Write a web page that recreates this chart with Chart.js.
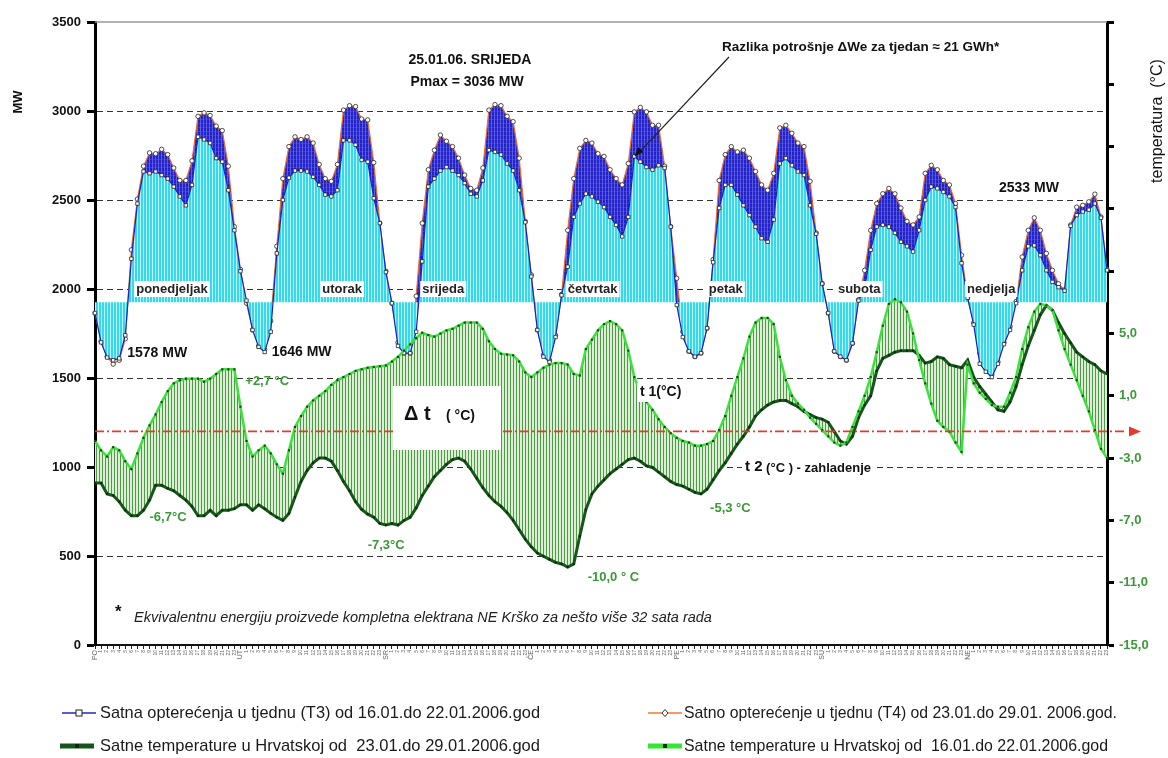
<!DOCTYPE html>
<html>
<head>
<meta charset="utf-8">
<script src="https://cdn.jsdelivr.net/npm/chart.js@4.4.1/dist/chart.umd.min.js"></script>
<style>
  html, body { margin: 0; padding: 0; background: #fff; }
  #wrap { position: relative; width: 1168px; height: 758px; }
</style>
</head>
<body>
<div id="wrap"><canvas id="c" width="1168" height="758"></canvas></div>
<script>
// ---- data: hourly values for one week (168 hours, Monday 00h .. Sunday 23h) ----
const DAYS = ['PO', 'UT', 'SR', 'ČE', 'PE', 'SU', 'NE'];
const DAY_NAMES = ['ponedjeljak', 'utorak', 'srijeda', 'četvrtak', 'petak', 'subota', 'nedjelja'];

// hourly load, week T3 (16.01.–22.01.2006), MW
const LOAD_T3 = [
  1865,1700,1615,1600,1610,1740,2170,2480,2660,2650,2660,2640,2620,2575,2520,2470,2585,2855,2840,2820,2735,2715,2555,2330,
  2100,1935,1770,1675,1646,1760,2200,2500,2625,2665,2665,2660,2630,2585,2530,2520,2555,2835,2835,2810,2725,2715,2510,2370,
  2095,1920,1680,1640,1640,1760,2155,2575,2620,2665,2685,2665,2640,2595,2535,2520,2610,2780,2770,2755,2705,2665,2555,2375,
  2070,1770,1620,1590,1730,1965,2125,2405,2480,2535,2520,2490,2460,2405,2360,2295,2405,2745,2715,2685,2670,2695,2680,2350,
  1910,1730,1650,1620,1640,1780,2150,2455,2585,2585,2530,2470,2415,2350,2285,2265,2390,2705,2735,2695,2660,2640,2470,2310,
  2030,1865,1650,1620,1600,1695,1935,1995,2220,2350,2360,2350,2315,2265,2240,2210,2330,2500,2575,2565,2545,2520,2460,2145,
  1950,1800,1580,1535,1505,1580,1690,1770,1920,2105,2240,2245,2190,2105,2040,2010,1990,2355,2415,2435,2445,2480,2400,2105
];

// hourly load, week T4 (23.01.–29.01.2006), MW
const LOAD_T4 = [
  1865,1705,1620,1578,1600,1720,2220,2505,2690,2765,2760,2785,2755,2680,2610,2610,2720,2970,2990,2975,2915,2890,2690,2350,
  2110,1920,1770,1680,1660,1820,2240,2620,2800,2855,2840,2855,2820,2700,2620,2605,2700,3005,3030,3025,2955,2950,2710,2370,
  2100,1920,1700,1640,1640,1960,2370,2670,2780,2865,2830,2800,2735,2640,2565,2555,2680,3005,3036,3030,2970,2940,2735,2380,
  2080,1770,1630,1600,1740,1970,2330,2620,2790,2835,2820,2760,2745,2670,2620,2585,2705,2995,3020,2995,2920,2920,2690,2350,
  2060,1760,1650,1620,1640,1780,2165,2610,2755,2800,2770,2780,2735,2660,2585,2555,2650,2905,2920,2875,2820,2800,2605,2315,
  2030,1865,1650,1620,1600,1695,1940,2105,2330,2480,2535,2565,2535,2455,2380,2360,2405,2650,2695,2670,2610,2585,2480,2190,
  1950,1810,1640,1560,1520,1590,1700,1790,1930,2180,2330,2400,2330,2200,2105,2030,1995,2360,2460,2470,2490,2533,2405,2110
];

// hourly temperature in Croatia, 16.01.–22.01.2006 (t1), °C
const TEMP_T1 = [
  -1.9,-2.5,-2.9,-2.3,-2.5,-3.2,-3.7,-2.7,-1.7,-0.9,-0.2,0.6,1.3,1.8,2.0,2.1,2.1,2.1,1.9,2.1,2.4,2.7,2.7,2.7,
  0.3,-1.9,-2.9,-2.5,-2.2,-2.7,-3.4,-4.0,-2.5,-1.0,-0.3,0.3,0.7,1.0,1.3,1.7,2.0,2.2,2.4,2.6,2.7,2.8,2.85,2.9,
  2.95,3.2,3.5,3.9,4.3,4.7,5.05,4.9,4.8,5.0,5.2,5.3,5.5,5.7,5.7,5.7,5.3,4.5,4.0,3.7,3.65,3.6,3.2,2.5,
  2.2,2.5,2.8,3.0,3.1,3.1,3.0,2.4,2.3,4.0,4.6,5.2,5.6,5.8,5.6,5.2,3.9,2.2,1.2,0.6,0.1,-0.5,-1.0,-1.4,
  -1.7,-1.9,-2.0,-2.2,-2.2,-2.1,-1.9,-1.2,-0.3,1.0,2.2,3.4,4.8,5.7,6.0,6.0,5.6,3.5,2.0,1.0,0.5,0.1,-0.4,-0.8,
  -1.2,-1.6,-2.0,-2.2,-2.0,-1.0,0.0,1.0,2.2,3.8,5.5,6.9,7.2,7.0,6.4,5.0,3.3,1.8,0.5,-0.6,-1.0,-1.3,-2.0,-2.6,
  3.0,1.8,1.2,0.8,0.4,0.3,0.3,1.2,2.2,4.0,5.4,6.4,6.9,6.8,6.5,5.2,4.0,3.0,2.0,1.0,0.0,-1.2,-2.4,-3.0
];

// hourly temperature in Croatia, 23.01.–29.01.2006 (t2, cold spell), °C
const TEMP_T2 = [
  -4.6,-4.6,-5.3,-5.4,-5.8,-6.35,-6.7,-6.7,-6.35,-5.7,-4.75,-4.75,-4.95,-5.1,-5.4,-5.7,-6.1,-6.7,-6.7,-6.35,-6.7,-6.35,-6.35,-6.25,
  -6.0,-6.0,-6.35,-6.0,-6.25,-6.55,-6.8,-7.0,-6.55,-5.5,-4.5,-3.8,-3.3,-3.0,-3.0,-3.2,-3.8,-4.5,-5.1,-5.8,-6.3,-6.6,-6.8,-7.2,
  -7.3,-7.2,-7.3,-7.0,-6.8,-6.2,-5.4,-4.8,-4.2,-3.8,-3.4,-3.1,-3.0,-3.2,-3.7,-4.3,-4.9,-5.4,-5.8,-6.1,-6.5,-7.0,-7.6,-8.2,
  -8.7,-9.1,-9.3,-9.5,-9.7,-9.8,-10.0,-9.8,-8.0,-6.3,-5.3,-4.8,-4.4,-4.0,-3.7,-3.4,-3.1,-3.0,-3.2,-3.5,-3.6,-3.9,-4.2,-4.5,
  -4.7,-4.8,-5.0,-5.2,-5.3,-5.0,-4.4,-3.8,-3.3,-2.7,-2.1,-1.6,-1.0,-0.3,0.1,0.4,0.6,0.7,0.7,0.5,0.3,0.0,-0.2,-0.4,
  -0.5,-0.7,-1.3,-1.9,-2.1,-1.6,-0.4,0.4,1.0,2.6,3.4,3.6,3.8,3.9,3.9,3.9,3.6,3.1,3.2,3.5,3.4,3.0,2.9,2.8,
  3.3,2.2,1.6,1.1,0.6,0.1,0.0,0.6,1.6,3.0,4.2,5.2,6.2,6.8,6.5,5.7,5.0,4.4,3.8,3.5,3.2,3.0,2.6,2.4
];

// x tick labels: day abbreviation at midnight, then the hour of day
const HOUR_LABELS = [];
DAYS.forEach(d => { for (let h = 0; h < 24; h++) HOUR_LABELS.push(h === 0 ? d : String(h)); });

const LOAD_BASE = 1925;   // level the hourly load bars are hung from
const REF_LEVEL = 1200;   // red reference line

const LEGEND = [
  'Satna opterećenja u tjednu (T3) od 16.01.do 22.01.2006.god',
  'Satno opterećenje u tjednu (T4) od 23.01.do 29.01. 2006.god.',
  'Satne temperature u Hrvatskoj od  23.01.do 29.01.2006.god',
  'Satne temperature u Hrvatskoj od  16.01.do 22.01.2006.god'
];

// ---- hatch patterns ----
function pattern(w, h, paint) {
  const c = document.createElement('canvas');
  c.width = w; c.height = h;
  const g = c.getContext('2d');
  paint(g);
  return g.createPattern(c, 'repeat');
}
const cyanHatch = pattern(3, 1, g => {
  g.fillStyle = '#bff4f8'; g.fillRect(0, 0, 3, 1);
  g.fillStyle = '#36d9ea'; g.fillRect(0, 0, 2, 1);
});
const blueHatch = pattern(3, 4, g => {
  g.fillStyle = '#2222c6'; g.fillRect(0, 0, 3, 4);
  g.fillStyle = '#5c5ce2'; g.fillRect(2, 0, 1, 4);
  g.fillStyle = '#3a3ad2'; g.fillRect(0, 3, 2, 1);
});
const greenHatch = pattern(3, 1, g => {
  g.fillStyle = '#dcefd4'; g.fillRect(0, 0, 3, 1);
  g.fillStyle = '#4f9a4a'; g.fillRect(0, 0, 1, 1);
});

const GREEN_TXT = '#3a9a36';
const FONT = '"Liberation Sans", Arial, sans-serif';

// ---- annotations, titles and legend ----
const decorations = {
  id: 'decorations',
  beforeDatasetsDraw(chart) {
    const {ctx, chartArea: a} = chart;
    ctx.save();
    ctx.strokeStyle = '#999';
    ctx.lineWidth = 1.5;
    ctx.beginPath(); ctx.moveTo(a.left, a.top); ctx.lineTo(a.right, a.top); ctx.stroke();
    ctx.restore();
  },
  afterDatasetsDraw(chart) {
    const {ctx, chartArea: a, scales} = chart;
    const X = v => scales.x.getPixelForValue(v);
    const Y = v => scales.y.getPixelForValue(v);
    const T = v => scales.y1.getPixelForValue(v);
    ctx.save();

    // red reference line with arrow
    const ry = Y(REF_LEVEL);
    ctx.strokeStyle = '#e83a2a';
    ctx.lineWidth = 1.6;
    ctx.setLineDash([9, 3, 2, 3]);
    ctx.beginPath(); ctx.moveTo(a.left, ry); ctx.lineTo(a.right + 20, ry); ctx.stroke();
    ctx.setLineDash([]);
    ctx.fillStyle = '#e83a2a';
    ctx.beginPath(); ctx.moveTo(a.right + 22, ry - 5); ctx.lineTo(a.right + 34, ry); ctx.lineTo(a.right + 22, ry + 5); ctx.closePath(); ctx.fill();

    // day names sitting on the 2000 MW line
    ctx.font = 'bold 13px ' + FONT;
    ctx.textBaseline = 'middle';
    const dayAt = [6.8, 37.5, 54, 78, 101.3, 122.6, 143.9];
    DAY_NAMES.forEach((n, i) => {
      const x = X(dayAt[i]), y = Y(2000);
      const w = ctx.measureText(n).width;
      ctx.fillStyle = '#fff';
      ctx.fillRect(x - 2, y - 8, w + 4, 16);
      ctx.fillStyle = '#222';
      ctx.fillText(n, x, y);
    });

    // load labels
    ctx.font = 'bold 14px ' + FONT;
    ctx.fillStyle = '#111';
    ctx.textAlign = 'left';
    ctx.fillText(LOAD_T4[3] + ' MW', X(3) + 14, Y(LOAD_T4[3]) - 11);
    ctx.fillText(LOAD_T3[28] + ' MW', X(28) + 7, Y(LOAD_T3[28]));
    ctx.textAlign = 'right';
    ctx.fillText(LOAD_T4[165] + ' MW', X(165) - 36, Y(LOAD_T4[165]) - 6);

    ctx.textAlign = 'center';
    ctx.fillText('25.01.06. SRIJEDA', 470, 60);
    ctx.fillText('Pmax = ' + Math.max(...LOAD_T4) + ' MW', 467, 82);

    ctx.font = 'bold 13.5px ' + FONT;
    ctx.textAlign = 'left';
    ctx.fillText('Razlika potrošnje \u0394We za tjedan \u2248 21 GWh*', 722, 47);
    // pointer to the Thursday evening peak
    const px = X(89), py = Y(LOAD_T3[89]);
    ctx.strokeStyle = '#222'; ctx.lineWidth = 1.2;
    ctx.beginPath(); ctx.moveTo(729, 57); ctx.lineTo(px + 4, py - 3); ctx.stroke();
    const ang = Math.atan2(py - 57, px - 729);
    ctx.fillStyle = '#111';
    ctx.beginPath();
    ctx.moveTo(px, py);
    ctx.lineTo(px - 10 * Math.cos(ang - 0.35), py - 10 * Math.sin(ang - 0.35));
    ctx.lineTo(px - 10 * Math.cos(ang + 0.35), py - 10 * Math.sin(ang + 0.35));
    ctx.closePath(); ctx.fill();

    // temperature labels
    ctx.font = 'bold 13px ' + FONT;
    ctx.fillStyle = GREEN_TXT;
    ctx.textAlign = 'left';
    ctx.fillText('+2,7 °C', X(24.8), T(2.7) + 12);
    ctx.fillText('-6,7°C', X(9), T(-6.7) + 2);
    ctx.fillText('-7,3°C', X(45), T(-7.3) + 20);
    ctx.fillText('-10,0 ° C', X(81.3), T(-10.0) + 10);
    ctx.fillText('-5,3 °C', X(101.5), T(-5.3) + 14);

    // delta t box
    ctx.fillStyle = '#fff';
    ctx.fillRect(393, 386, 108, 64);
    ctx.fillStyle = '#111';
    ctx.font = 'bold 20px ' + FONT;
    ctx.fillText('\u0394 t', 404, 414);
    ctx.font = 'bold 14px ' + FONT;
    ctx.fillText('( °C)', 446, 416);

    // t1 / t2 captions
    ctx.font = 'bold 14px ' + FONT;
    let w = ctx.measureText('t 1(°C)').width;
    ctx.fillStyle = '#fff'; ctx.fillRect(637, 383, w + 6, 19);
    ctx.fillStyle = '#111'; ctx.fillText('t 1(°C)', 640, 392);
    const cap2a = 't 2', cap2b = ' (°C ) - zahladenje';
    ctx.font = 'bold 15px ' + FONT;
    const wa = ctx.measureText(cap2a).width;
    ctx.font = 'bold 13px ' + FONT;
    const wb = ctx.measureText(cap2b).width;
    ctx.fillStyle = '#fff'; ctx.fillRect(742, 458, wa + wb + 6, 19);
    ctx.fillStyle = '#111';
    ctx.font = 'bold 15px ' + FONT; ctx.fillText(cap2a, 745, 467);
    ctx.font = 'bold 13px ' + FONT; ctx.fillText(cap2b, 745 + wa, 468);

    // footnote
    ctx.font = 'bold 17px ' + FONT;
    ctx.fillText('*', 115, 612);
    ctx.font = 'italic 14.5px ' + FONT;
    ctx.fillStyle = '#222';
    ctx.fillText('Ekvivalentnu energiju proizvede kompletna elektrana NE Krško za nešto više 32 sata rada', 134, 618);
    ctx.restore();
  },
  afterDraw(chart) {
    const {ctx} = chart;
    ctx.save();
    // axis titles
    ctx.fillStyle = '#111';
    ctx.textAlign = 'center';
    ctx.textBaseline = 'middle';
    ctx.font = 'bold 13px ' + FONT;
    ctx.translate(18, 102); ctx.rotate(-Math.PI / 2); ctx.fillText('MW', 0, 0);
    ctx.setTransform(1, 0, 0, 1, 0, 0);
    ctx.font = '16px ' + FONT;
    ctx.translate(1158, 121); ctx.rotate(-Math.PI / 2); ctx.fillText('temperatura  (°C)', 0, 0);
    ctx.setTransform(1, 0, 0, 1, 0, 0);

    // legend
    const rows = [
      {x: 62, y: 713, color: '#2424c8', lw: 1.5, mark: 'square', tx: 100, tw: 440, text: LEGEND[0]},
      {x: 648, y: 713, color: '#f07a30', lw: 1.5, mark: 'diamond', tx: 684, tw: 433, text: LEGEND[1]},
      {x: 60, y: 746, color: '#17561a', lw: 5, mark: 'dot', tx: 100, tw: 440, text: LEGEND[2]},
      {x: 648, y: 746, color: '#33e833', lw: 5, mark: 'dot', tx: 684, tw: 424, text: LEGEND[3]}
    ];
    rows.forEach(r => {
      ctx.strokeStyle = r.color; ctx.lineWidth = r.lw;
      ctx.beginPath(); ctx.moveTo(r.x, r.y); ctx.lineTo(r.x + 34, r.y); ctx.stroke();
      const cx = r.x + 17;
      if (r.mark === 'square') {
        ctx.fillStyle = '#fff'; ctx.fillRect(cx - 3, r.y - 3, 6, 6);
        ctx.strokeStyle = '#222'; ctx.lineWidth = 1; ctx.strokeRect(cx - 3, r.y - 3, 6, 6);
      } else if (r.mark === 'diamond') {
        ctx.fillStyle = '#fff'; ctx.strokeStyle = '#333'; ctx.lineWidth = 1;
        ctx.beginPath(); ctx.moveTo(cx, r.y - 3.5); ctx.lineTo(cx + 3, r.y); ctx.lineTo(cx, r.y + 3.5); ctx.lineTo(cx - 3, r.y); ctx.closePath(); ctx.fill(); ctx.stroke();
      } else {
        ctx.fillStyle = '#0d2a0d'; ctx.fillRect(cx - 2, r.y - 2, 4, 4);
      }
      ctx.font = '17px ' + FONT;
      ctx.fillStyle = '#1a1a1a';
      ctx.textAlign = 'left';
      const mw = ctx.measureText(r.text).width;
      ctx.save();
      ctx.translate(r.tx, r.y);
      ctx.scale(r.tw / mw, 1);
      ctx.fillText(r.text, 0, 0);
      ctx.restore();
    });
    ctx.restore();
  }
};

new Chart(document.getElementById('c'), {
  type: 'line',
  data: {
    labels: HOUR_LABELS,
    datasets: [
      { // 0: t1 line
        data: TEMP_T1, yAxisID: 'y1', order: 1, fill: false,
        borderColor: '#3be23b', borderWidth: 2.5,
        pointRadius: 1.5, pointStyle: 'rect', pointBackgroundColor: '#1f3f1f', pointBorderWidth: 0
      },
      { // 1: t2 line
        data: TEMP_T2, yAxisID: 'y1', order: 2, fill: false,
        borderColor: '#17561a', borderWidth: 3,
        pointRadius: 1.5, pointStyle: 'rect', pointBackgroundColor: '#0d2a0d', pointBorderWidth: 0
      },
      { // 2: T3 load, bars hung from the base level
        data: LOAD_T3, yAxisID: 'y', order: 5,
        fill: {target: {value: LOAD_BASE}, above: cyanHatch, below: cyanHatch},
        borderColor: '#1c1cc8', borderWidth: 1.2,
        pointRadius: 2.4, pointStyle: 'rect', pointBackgroundColor: '#fff', pointBorderColor: '#222', pointBorderWidth: 0.8
      },
      { // 3: T4 load, difference to T3 shaded
        data: LOAD_T4, yAxisID: 'y', order: 6,
        fill: {target: 2, above: blueHatch, below: 'rgba(0,0,0,0)'},
        borderColor: '#f06a28', borderWidth: 1.2,
        pointRadius: 2.2, pointStyle: 'circle', pointBackgroundColor: '#fff', pointBorderColor: '#222', pointBorderWidth: 0.8
      },
      { // 4: temperature difference band (t2 .. t1)
        data: TEMP_T2, yAxisID: 'y1', order: 10,
        fill: {target: 0, above: greenHatch, below: greenHatch},
        borderWidth: 0, borderColor: 'rgba(0,0,0,0)', pointRadius: 0
      }
    ]
  },
  options: {
    responsive: false,
    animation: false,
    devicePixelRatio: 1,
    layout: {padding: {top: 22, bottom: 0, left: 0, right: 0}},
    plugins: {legend: {display: false}, tooltip: {enabled: false}},
    elements: {line: {tension: 0}},
    scales: {
      x: {
        type: 'category',
        offset: false,
        grid: {drawOnChartArea: false, drawTicks: true, tickLength: 4, tickColor: '#222', tickWidth: 1},
        border: {display: true, color: '#111', width: 2},
        ticks: {
          autoSkip: false, maxRotation: 90, minRotation: 90, padding: 1,
          color: '#666',
          font: c => ({size: (c.index % 24 === 0) ? 7 : 5, family: FONT})
        },
        afterFit: s => { s.height = 113; }
      },
      y: {
        position: 'left', min: 0, max: 3500,
        ticks: {
          stepSize: 500, color: '#111', font: {size: 13, weight: 'bold', family: FONT}, padding: 6,
          callback: v => String(v)
        },
        grid: {
          color: c => (c.tick.value === 0 || c.tick.value === 3500) ? 'rgba(0,0,0,0)' : '#333',
          lineWidth: 1, drawTicks: true, tickLength: 8, tickWidth: 3, tickColor: '#000'
        },
        border: {display: true, color: '#000', width: 3, dash: [6, 4]},
        afterFit: s => { s.width = 95; }
      },
      y1: {
        position: 'right', min: -15, max: 25,
        ticks: {
          stepSize: 4, color: GREEN_TXT, font: {size: 13, weight: 'bold', family: FONT}, padding: 5,
          callback: v => (v <= 5 ? v.toFixed(1).replace('.', ',') : '')
        },
        grid: {drawOnChartArea: false, drawTicks: true, tickLength: 7, tickWidth: 3, tickColor: '#000'},
        border: {display: true, color: '#000', width: 3},
        afterFit: s => { s.width = 61; }
      }
    }
  },
  plugins: [decorations]
});
</script>
</body>
</html>
